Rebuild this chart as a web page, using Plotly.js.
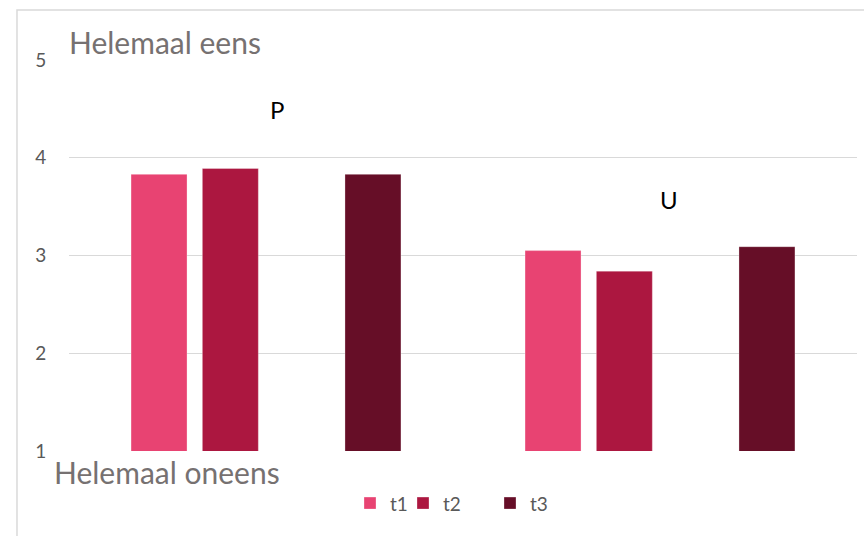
<!DOCTYPE html>
<html>
<head>
<meta charset="utf-8">
<script src="https://cdn.plot.ly/plotly-3.0.1.min.js"></script>
<style>html,body{margin:0;padding:0;background:#fff;}#chart{width:864px;height:536px;}</style>
</head>
<body>
<div id="chart"></div>
<script>
var categories = ['P', 'U'];
var seriesNames = ['t1', 't2', ' ', 't3'];
var t1 = [3.83, 3.05];
var t2 = [3.89, 2.84];
var blank = [null, null];
var t3 = [3.83, 3.09];
var yTicks = [1, 2, 3, 4, 5];
var topLabel = 'Helemaal eens';
var bottomLabel = 'Helemaal oneens';

var colors = ['#E84372', '#AC1740', 'rgba(0,0,0,0)', '#660E27'];
var values = [t1, t2, blank, t3];
var legendWidths = [8, 42, 1, undefined];
var FONT = 'Lato, "Open Sans", sans-serif';

var traces = values.map(function (v, i) {
  return {
    type: 'bar',
    x: categories,
    y: v,
    name: seriesNames[i],
    marker: {color: colors[i], line: {width: i === 2 ? 0 : 0.6, color: 'rgba(255,255,255,0.5)'}},
    hoverinfo: 'skip',
    showlegend: i !== 2,
    legendwidth: legendWidths[i]
  };
});

var layout = {
  width: 864, height: 536,
  margin: {l: 69, r: 7, t: 60, b: 85},
  paper_bgcolor: '#fff', plot_bgcolor: '#fff',
  barmode: 'group',
  bargap: 0.276,
  bargroupgap: 0.215,
  font: {family: FONT, color: '#595959'},
  xaxis: {showticklabels: false, showgrid: false, zeroline: false, showline: false, ticks: ''},
  yaxis: {
    range: [1, 5], tickvals: yTicks, ticktext: yTicks.map(String),
    showgrid: true, gridcolor: '#D9D9D9', gridwidth: 1.4, zeroline: false, showline: false,
    ticks: 'outside', ticklen: 18, tickcolor: 'rgba(0,0,0,0)',
    tickfont: {size: 19, color: '#595959', family: FONT}
  },
  showlegend: true,
  legend: {
    orientation: 'h', x: 0.3566, xanchor: 'left', y: -0.085, yanchor: 'top',
    font: {size: 19, color: '#595959', family: FONT},
    traceorder: 'normal', bgcolor: 'rgba(0,0,0,0)'
  },
  annotations: [
    {xref: 'paper', yref: 'paper', x: -0.003, y: 1.046, xanchor: 'left', yanchor: 'middle',
     text: topLabel, showarrow: false, font: {size: 30, color: '#767171', family: FONT}},
    {xref: 'paper', yref: 'paper', x: -0.022, y: -0.053, xanchor: 'left', yanchor: 'middle',
     text: bottomLabel, showarrow: false, font: {size: 30, color: '#767171', family: FONT}},
    {xref: 'x', yref: 'y', x: 'P', y: 4.49, xshift: 11, showarrow: false,
     text: 'P', font: {size: 24, color: '#000', family: FONT}},
    {xref: 'x', yref: 'y', x: 'U', y: 3.57, xshift: 9, showarrow: false,
     text: 'U', font: {size: 24, color: '#000', family: FONT}}
  ],
  shapes: [
    {type: 'rect', xref: 'paper', yref: 'paper', x0: -0.066, x1: 1.02, y0: -0.25, y1: 1.128,
     line: {color: '#D9D9D9', width: 1.5}, fillcolor: 'rgba(0,0,0,0)', layer: 'below'}
  ]
};

Plotly.newPlot('chart', traces, layout, {displayModeBar: false, staticPlot: true});
</script>
</body>
</html>
